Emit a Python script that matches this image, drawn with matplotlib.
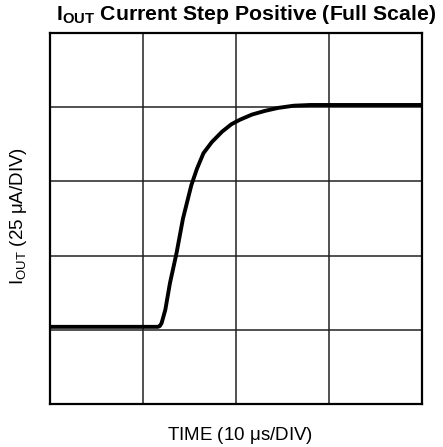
import matplotlib.pyplot as plt
import numpy as np

plt.rcParams['font.family'] = ['Liberation Sans', 'DejaVu Sans']
plt.rcParams['mathtext.fontset'] = 'custom'
plt.rcParams['mathtext.rm'] = 'Liberation Sans'
plt.rcParams['mathtext.it'] = 'Liberation Sans:italic'
plt.rcParams['mathtext.bf'] = 'Liberation Sans:bold'

# Courbe (en divisions)
time_div = [0.0, 1.16, 1.18, 1.20, 1.24, 1.29, 1.36, 1.43, 1.49, 1.52,
            1.58, 1.65, 1.74, 1.85, 1.95, 2.04, 2.17, 2.31, 2.45, 2.62,
            2.80, 4.0]
iout_div = [1.04, 1.04, 1.05, 1.09, 1.27, 1.63, 2.03, 2.50, 2.80, 2.95,
            3.17, 3.38, 3.53, 3.67, 3.77, 3.83, 3.90, 3.95, 3.99, 4.02,
            4.03, 4.03]

fig = plt.figure(figsize=(4.43, 4.47), dpi=100)
ax = fig.add_axes([50 / 443, 43 / 447, 372 / 443, 371 / 447])

ax.plot(time_div, iout_div, color='black', linewidth=2.8,
        solid_joinstyle='round', solid_capstyle='round', zorder=3)

ax.set_xlim(0, 4)
ax.set_ylim(0, 5)
ax.set_xticks(np.arange(0, 5))
ax.set_yticks(np.arange(0, 6))
ax.tick_params(length=0, labelbottom=False, labelleft=False)
ax.grid(True, color='#222222', linewidth=1.1)
for s in ax.spines.values():
    s.set_linewidth(1.6)

fig.text(246 / 443, 1 - 15 / 447,
         r'$\mathbf{I_{OUT}}$ Current Step Positive (Full Scale)',
         ha='center', va='center', fontsize=15.3, fontweight='bold')
fig.text(240 / 443, 1 - 435 / 447, r'TIME (10 $\mathrm{\mu}$s/DIV)',
         ha='center', va='center', fontsize=13.5)
fig.text(19 / 443, 1 - 216 / 447, r'I$_{\mathrm{OUT}}$ (25 $\mathrm{\mu}$A/DIV)',
         ha='center', va='center', fontsize=13.5, rotation=90)

plt.savefig('out.png', dpi=100)
